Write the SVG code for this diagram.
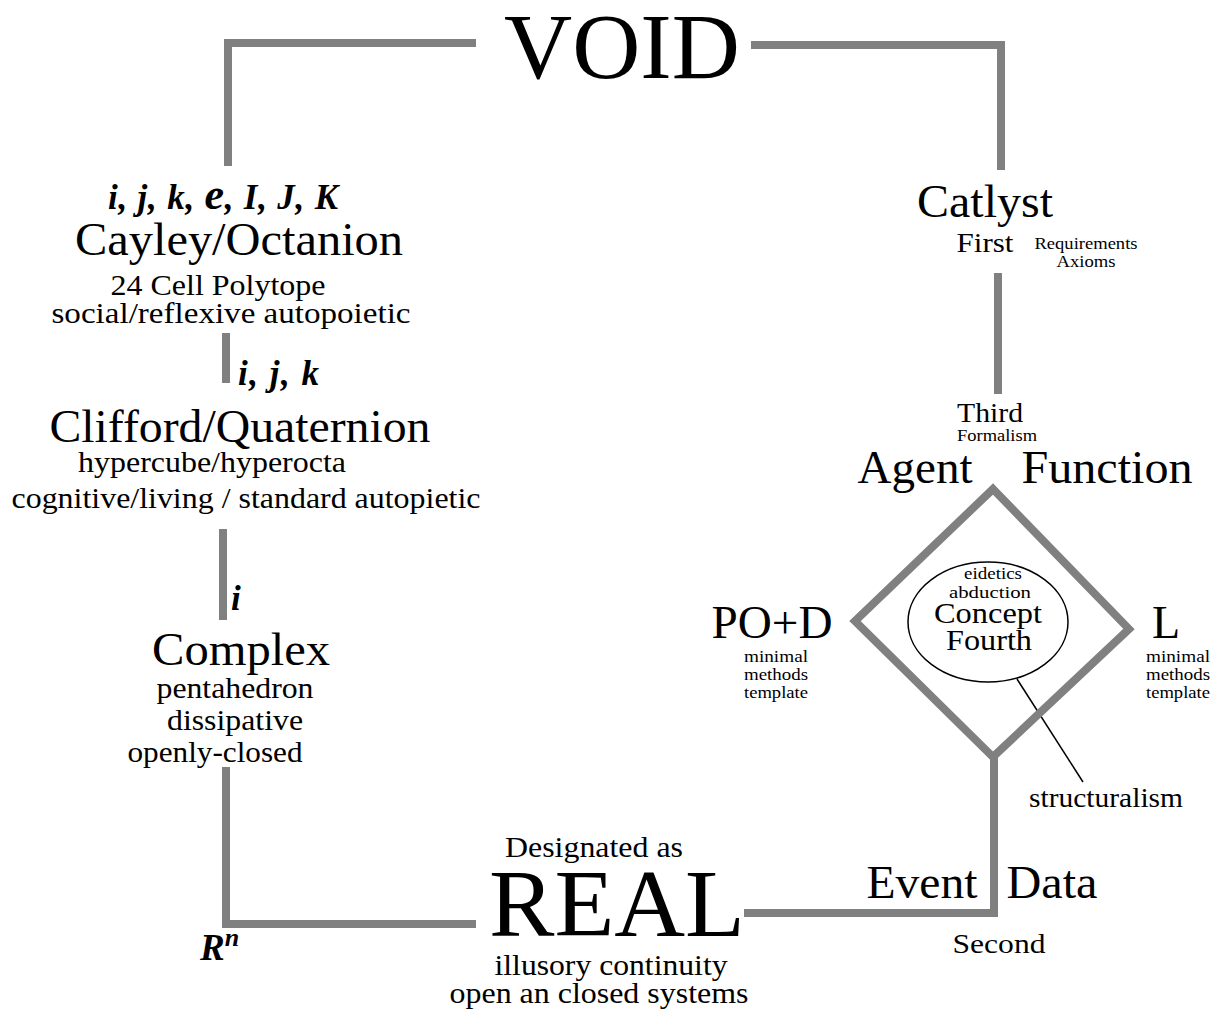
<svg xmlns="http://www.w3.org/2000/svg" width="1216" height="1010" viewBox="0 0 1216 1010">
<style>
.t{font-family:"Liberation Serif","Times New Roman",serif;fill:#000;text-anchor:middle}
.bi{font-family:"Liberation Serif","Times New Roman",serif;font-weight:bold;font-style:italic;fill:#000}
.h{font-size:46px}
.s{font-size:30px}
.m{font-size:17px}
.c{fill:none;stroke:#808080;stroke-width:8;stroke-linejoin:miter}
.thin{fill:none;stroke:#000;stroke-width:1.5}
</style>
<rect width="1216" height="1010" fill="#fff"/>
<g id="connectors">
<path class="c" d="M476,43 H228 V166"/>
<path class="c" d="M751,45 H1001 V170"/>
<path class="c" d="M998,273 V394"/>
<path class="c" d="M226,333 V383"/>
<path class="c" d="M223,529 V620"/>
<path class="c" d="M226,767 V924 H476"/>
<path class="c" d="M744,913 H994 V757"/>
<line class="thin" x1="1017" y1="679" x2="1083" y2="782"/>
</g>
<g id="void"><text class="t" x="622" y="78" font-size="94" textLength="236" lengthAdjust="spacingAndGlyphs">VOID</text></g>
<g id="catlyst">
<text class="t h" x="985" y="217" textLength="136" lengthAdjust="spacingAndGlyphs">Catlyst</text>
<text class="t" x="985" y="252" font-size="28" textLength="57" lengthAdjust="spacingAndGlyphs">First</text>
<text class="t m" x="1086" y="249" textLength="103" lengthAdjust="spacingAndGlyphs">Requirements</text>
<text class="t m" x="1086" y="267" textLength="59" lengthAdjust="spacingAndGlyphs">Axioms</text>
</g>
<g id="third">
<text class="t" x="990" y="422" font-size="28" textLength="66" lengthAdjust="spacingAndGlyphs">Third</text>
<text class="t m" x="997" y="441" textLength="80" lengthAdjust="spacingAndGlyphs">Formalism</text>
</g>
<g id="diamond">
<polygon class="c" points="993,489 1129,629 993,757 855,621"/>
<text class="t h" x="915" y="483" textLength="115" lengthAdjust="spacingAndGlyphs">Agent</text>
<text class="t h" x="1107" y="483" textLength="171" lengthAdjust="spacingAndGlyphs">Function</text>
</g>
<g id="concept">
<ellipse class="thin" cx="988" cy="622" rx="80" ry="60"/>
<text class="t m" x="993" y="579" textLength="58" lengthAdjust="spacingAndGlyphs">eidetics</text>
<text class="t m" x="990" y="598" textLength="82" lengthAdjust="spacingAndGlyphs">abduction</text>
<text class="t" x="988" y="623" font-size="30" textLength="108" lengthAdjust="spacingAndGlyphs">Concept</text>
<text class="t" x="989" y="650" font-size="30" textLength="86" lengthAdjust="spacingAndGlyphs">Fourth</text>
</g>
<g id="pod">
<text class="t h" x="772" y="638" textLength="121" lengthAdjust="spacingAndGlyphs">PO+D</text>
<text class="t m" x="776" y="662" textLength="64" lengthAdjust="spacingAndGlyphs">minimal</text>
<text class="t m" x="776" y="680" textLength="64" lengthAdjust="spacingAndGlyphs">methods</text>
<text class="t m" x="776" y="698" textLength="64" lengthAdjust="spacingAndGlyphs">template</text>
</g>
<g id="l">
<text class="t h" x="1166" y="638">L</text>
<text class="t m" x="1178" y="662" textLength="64" lengthAdjust="spacingAndGlyphs">minimal</text>
<text class="t m" x="1178" y="680" textLength="64" lengthAdjust="spacingAndGlyphs">methods</text>
<text class="t m" x="1178" y="698" textLength="64" lengthAdjust="spacingAndGlyphs">template</text>
</g>
<g id="structuralism"><text class="t" x="1106" y="807" font-size="28" textLength="154" lengthAdjust="spacingAndGlyphs">structuralism</text></g>
<g id="eventdata">
<text class="t h" x="922" y="898" textLength="111" lengthAdjust="spacingAndGlyphs">Event</text>
<text class="t h" x="1052" y="898" textLength="91" lengthAdjust="spacingAndGlyphs">Data</text>
<text class="t" x="999" y="953" font-size="28" textLength="93" lengthAdjust="spacingAndGlyphs">Second</text>
</g>
<g id="real">
<text class="t s" x="594" y="857" textLength="178" lengthAdjust="spacingAndGlyphs">Designated as</text>
<text class="t" x="617" y="936" font-size="96" textLength="256" lengthAdjust="spacingAndGlyphs">REAL</text>
<text class="t s" x="611" y="975" textLength="233" lengthAdjust="spacingAndGlyphs">illusory continuity</text>
<text class="t s" x="599" y="1003" textLength="299" lengthAdjust="spacingAndGlyphs">open an closed systems</text>
</g>
<g id="cayley">
<text class="bi" x="108" y="209" font-size="35" textLength="230" lengthAdjust="spacing">i, j, k, <tspan font-size="44">e</tspan>, I, J, K</text>
<text class="t h" x="239" y="255" textLength="328" lengthAdjust="spacingAndGlyphs">Cayley/Octanion</text>
<text class="t s" x="218" y="295" textLength="215" lengthAdjust="spacingAndGlyphs">24 Cell Polytope</text>
<text class="t s" x="231" y="323" textLength="359" lengthAdjust="spacingAndGlyphs">social/reflexive autopoietic</text>
</g>
<g id="clifford">
<text class="bi" x="238" y="385" font-size="35" textLength="81" lengthAdjust="spacing">i, j, k</text>
<text class="t h" x="240" y="442" textLength="381" lengthAdjust="spacingAndGlyphs">Clifford/Quaternion</text>
<text class="t s" x="212" y="472" textLength="268" lengthAdjust="spacingAndGlyphs">hypercube/hyperocta</text>
<text class="t s" x="246" y="508" textLength="469" lengthAdjust="spacingAndGlyphs">cognitive/living / standard autopietic</text>
</g>
<g id="complex">
<text class="bi" x="231" y="610" font-size="35">i</text>
<text class="t h" x="241" y="665" textLength="178" lengthAdjust="spacingAndGlyphs">Complex</text>
<text class="t s" x="235" y="698" textLength="157" lengthAdjust="spacingAndGlyphs">pentahedron</text>
<text class="t s" x="235" y="730" textLength="136" lengthAdjust="spacingAndGlyphs">dissipative</text>
<text class="t s" x="215" y="762" textLength="175" lengthAdjust="spacingAndGlyphs">openly-closed</text>
</g>
<g id="rn">
<text class="bi" x="200" y="960" font-size="37">R<tspan font-size="26" dy="-14">n</tspan></text>
</g>
</svg>
